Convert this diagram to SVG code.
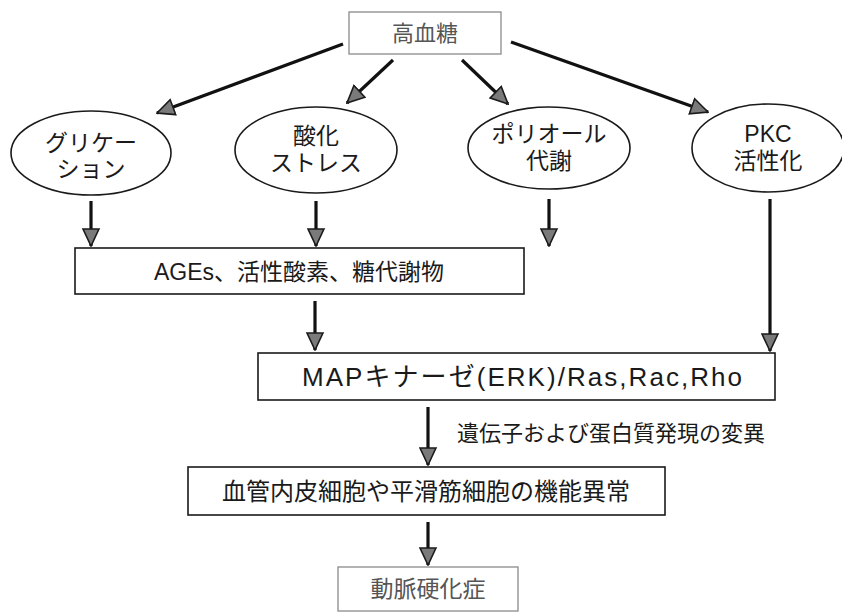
<svg xmlns="http://www.w3.org/2000/svg" width="842" height="614" viewBox="0 0 842 614">
<defs>
<marker id="ah" markerUnits="userSpaceOnUse" markerWidth="19" markerHeight="19" viewBox="0 0 19 19" refX="18" refY="9.5" orient="auto">
<path d="M1,1.5 L18,9.5 L1,17.5 Z" fill="#7a7a7a" stroke="#1a1a1a" stroke-width="1.6" stroke-linejoin="miter"/>
</marker>
<style>
.t{font-family:"Liberation Sans","Noto Sans CJK JP",sans-serif;fill:#1a1a1a;text-anchor:middle}
.g{fill:#555}
.box{fill:#fff;stroke:#1a1a1a;stroke-width:1.6}
.gbox{fill:#fff;stroke:#8a8a8a;stroke-width:1.3}
.ell{fill:#fff;stroke:#1a1a1a;stroke-width:1.6}
.c{stroke:#111;stroke-width:3.2;fill:none;marker-end:url(#ah)}
</style>
</defs>
<rect width="842" height="614" fill="#fff"/>
<g id="connectors">
<line class="c" x1="343" y1="44" x2="157" y2="113"/>
<line class="c" x1="393" y1="60" x2="347" y2="103"/>
<line class="c" x1="462" y1="60" x2="508" y2="104"/>
<line class="c" x1="511" y1="42" x2="708" y2="112"/>
<line class="c" x1="91" y1="201" x2="91" y2="246"/>
<line class="c" x1="316" y1="201" x2="316" y2="246"/>
<line class="c" x1="549" y1="199" x2="549" y2="246"/>
<line class="c" x1="770" y1="199" x2="770" y2="351"/>
<line class="c" x1="315" y1="301" x2="315" y2="350"/>
<line class="c" x1="428" y1="407" x2="428" y2="465"/>
<line class="c" x1="428" y1="522" x2="428" y2="565"/>
</g>
<g id="n-kouketsuto">
<rect class="gbox" x="349" y="12" width="152" height="42"/>
<text class="t g" x="425" y="41" font-size="22">高血糖</text>
</g>
<g id="n-glycation">
<ellipse class="ell" cx="91" cy="153" rx="80" ry="42"/>
<text class="t" x="91" y="151" font-size="23">グリケー</text>
<text class="t" x="91" y="177" font-size="23">ション</text>
</g>
<g id="n-oxidative">
<ellipse class="ell" cx="316" cy="150" rx="81" ry="43"/>
<text class="t" x="316" y="144" font-size="23">酸化</text>
<text class="t" x="316" y="171" font-size="23">ストレス</text>
</g>
<g id="n-polyol">
<ellipse class="ell" cx="549" cy="148" rx="81" ry="41"/>
<text class="t" x="549" y="142" font-size="23">ポリオール</text>
<text class="t" x="549" y="169" font-size="23">代謝</text>
</g>
<g id="n-pkc">
<ellipse class="ell" cx="768" cy="148" rx="76" ry="44"/>
<text class="t" x="768" y="142" font-size="23">PKC</text>
<text class="t" x="768" y="169" font-size="23">活性化</text>
</g>
<g id="n-ages">
<rect class="box" x="75" y="248" width="449" height="46"/>
<text class="t" x="299" y="280" font-size="23">AGEs、活性酸素、糖代謝物</text>
</g>
<g id="n-map">
<rect class="box" x="258" y="353" width="517" height="47"/>
<text class="t" x="522" y="386" font-size="26" textLength="440" lengthAdjust="spacing">MAPキナーゼ(ERK)/Ras,Rac,Rho</text>
</g>
<text class="t" x="611" y="441" font-size="22">遺伝子および蛋白質発現の変異</text>
<g id="n-dysfunction">
<rect class="box" x="188" y="467" width="477" height="48"/>
<text class="t" x="426" y="500" font-size="24">血管内皮細胞や平滑筋細胞の機能異常</text>
</g>
<g id="n-atherosclerosis">
<rect class="gbox" x="338" y="567" width="180" height="44"/>
<text class="t g" x="428" y="597" font-size="23">動脈硬化症</text>
</g>
</svg>
